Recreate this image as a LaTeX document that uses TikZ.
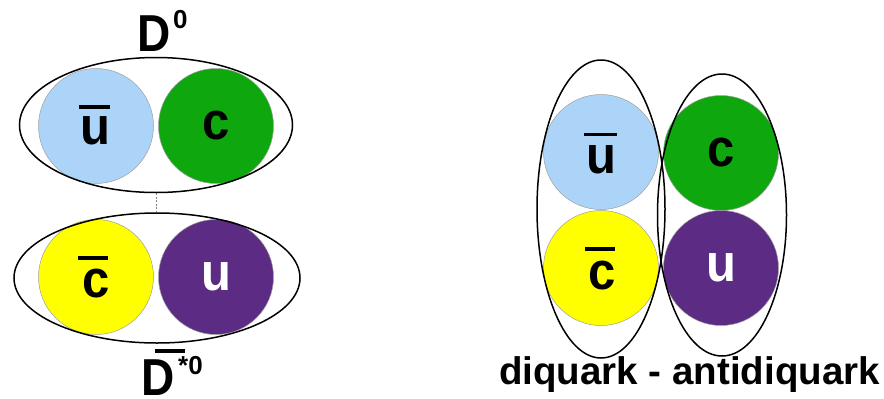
\documentclass[tikz,border=0pt]{standalone}
\usepackage{fontspec}
\usepackage{graphicx}
\setmainfont{Liberation Sans}
\usetikzlibrary{shapes.geometric,calc}

\definecolor{qblue}{RGB}{172,212,248}
\definecolor{qgreen}{RGB}{14,168,14}
\definecolor{qyellow}{RGB}{255,255,0}
\definecolor{qpurple}{RGB}{92,44,132}

\tikzset{
  quark/.style={circle, minimum size=115pt, inner sep=0pt, draw=gray!75, line width=0.5pt},
  hadron/.style={ellipse, draw=black, line width=1.5pt, inner sep=0pt},
  flavour/.style={inner sep=0pt, font=\bfseries\fontsize{49}{49}\selectfont},
  qbar/.style={line width=3.8pt},
  title/.style={inner sep=0pt, anchor=base west, font=\bfseries\fontsize{46}{46}\selectfont},
  supscr/.style={inner sep=0pt, anchor=base west, font=\bfseries\fontsize{26}{26}\selectfont},
  link/.style={gray, line width=0.5pt, dash pattern=on 2pt off 1.5pt}
}

\newcommand{\tallglyph}[1]{\scalebox{1}[1.08]{#1}}

\begin{document}
\begin{tikzpicture}[x=1pt, y=-1pt]
  \useasboundingbox (0,0) rectangle (884,399);

  % ---------- meson molecule: D0 and anti-D*0 ----------
  \node[quark, fill=qblue]   (m1) at (96,126) {};
  \node[quark, fill=qgreen]  (m2) at (216,126) {};
  \node[quark, fill=qyellow] (m3) at (96,277) {};
  \node[quark, fill=qpurple] (m4) at (216,277) {};

  \node[hadron, minimum width=273pt, minimum height=135pt] (dz) at (156,125) {};
  \node[hadron, minimum width=286pt, minimum height=130pt] (dzs) at (157,278) {};
  \draw[link] (dz.south) -- (dz.south |- dzs.north);

  \node[flavour] (l1) at ($(m1)+(-1,5)$) {\tallglyph{u}};
  \node[flavour] (l2) at (m2) {\tallglyph{c}};
  \node[flavour] (l3) at ($(m3)+(0,7)$) {\tallglyph{c}};
  \node[flavour, text=white] (l4) at (m4) {\tallglyph{u}};
  \draw[qbar] ([shift={(-1,-9.5)}]l1.north west) -- ([shift={(0,-9.5)}]l1.north east);
  \draw[qbar] ([shift={(-4,-11)}]l3.north west) -- ([shift={(-2,-11)}]l3.north east);

  \node[title] (dname) at (137,51) {\scalebox{1}[1.13]{D}};
  \node[supscr] (dsup) at (173,28) {0};

  \node[title] (dbname) at (141.5,395) {\scalebox{1}[1.13]{D}};
  \node[supscr] (dbsup) at (178,374) {*0};
  \draw[qbar] ([shift={(13.5,-8)}]dbname.north west) -- ([shift={(10,-8)}]dbname.north east);

  % ---------- diquark - antidiquark ----------
  \node[quark, fill=qblue]   (t1) at (601,152) {};
  \node[quark, fill=qyellow] (t2) at (601,268) {};
  \node[quark, fill=qgreen]  (t3) at (721,153) {};
  \node[quark, fill=qpurple] (t4) at (721,268) {};

  \node[hadron, minimum width=128pt, minimum height=298pt] (dq) at (601,209) {};
  \node[hadron, minimum width=129pt, minimum height=282pt] (adq) at (722,215) {};

  \node[flavour] (k1) at ($(t1)+(0,8)$) {\tallglyph{u}};
  \node[flavour] (k2) at ($(t2)+(1,8)$) {\tallglyph{c}};
  \node[flavour] (k3) at (t3) {\tallglyph{c}};
  \node[flavour, text=white] (k4) at (t4) {\tallglyph{u}};
  \draw[qbar] ([shift={(-2,-11)}]k1.north west) -- ([shift={(1,-11)}]k1.north east);
  \draw[qbar] ([shift={(-3,-12)}]k2.north west) -- ([shift={(-1,-12)}]k2.north east);

  \node[inner sep=0pt, anchor=base west, font=\bfseries\fontsize{38.5}{38.5}\selectfont]
    (cap) at (499,384) {diquark - antidiquark};
\end{tikzpicture}
\end{document}
